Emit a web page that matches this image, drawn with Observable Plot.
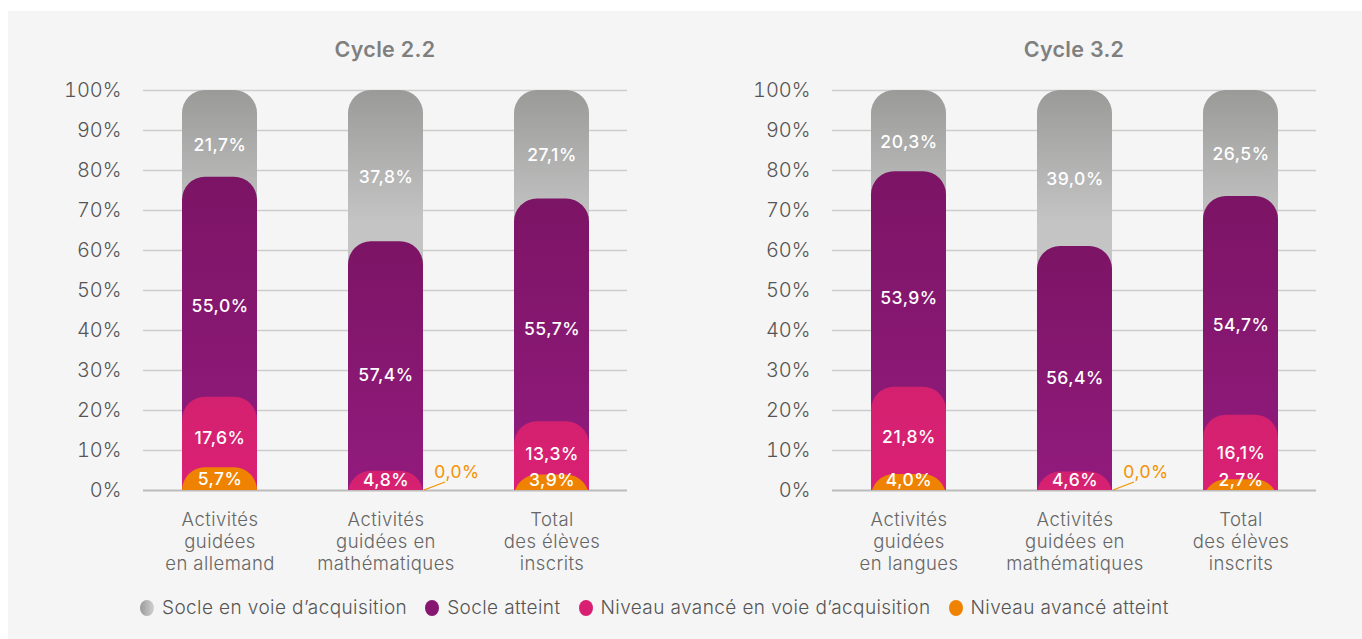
<!DOCTYPE html>
<html><head><meta charset="utf-8">
<script src="https://cdn.jsdelivr.net/npm/d3@7"></script>
<script src="https://cdn.jsdelivr.net/npm/@observablehq/plot@0.6"></script>
<style>
body{margin:0;background:#fff;font-family:"Inter",sans-serif;width:1362px;height:639px;overflow:hidden;position:relative;}
#panel{position:absolute;left:8px;top:11px;width:1354px;height:628px;background:#f5f5f5;}
.chart{position:absolute;top:0;width:689px;height:600px;}
.chart svg{position:absolute;left:0;top:0;overflow:visible;}
.chart svg g[aria-label="text"] text{letter-spacing:0.5px;}
.chart svg g[aria-label="x-axis tick label"] text{letter-spacing:0.45px;}
.title{position:absolute;top:25px;left:135px;width:484px;text-align:center;font-size:21.5px;font-weight:600;color:#7f7f7f;letter-spacing:0.3px;}
#legend{position:absolute;left:132px;top:585px;display:flex;align-items:center;font-size:19px;color:#555;font-weight:300;white-space:nowrap;letter-spacing:0.4px;}
#legend .item{display:flex;align-items:center;margin-right:18px;}
#legend .dot{width:14px;height:16px;border-radius:50%;margin-right:8px;display:inline-block;}
</style></head><body>
<svg width="0" height="0" style="position:absolute">
  <defs>
    <linearGradient id="g-gray" x1="0" y1="0" x2="0" y2="1">
      <stop offset="0" stop-color="#9a9a99"/>
      <stop offset="0.3" stop-color="#c4c4c4"/>
      <stop offset="1" stop-color="#c8c8c8"/>
    </linearGradient>
    <linearGradient id="g-purple" x1="0" y1="0" x2="0" y2="1">
      <stop offset="0" stop-color="#7c1465"/>
      <stop offset="1" stop-color="#951c81"/>
    </linearGradient>
    <linearGradient id="g-pink" x1="0" y1="0" x2="0" y2="1">
      <stop offset="0" stop-color="#d4216f"/>
      <stop offset="1" stop-color="#dd1f78"/>
    </linearGradient>
    <linearGradient id="g-orange" x1="0" y1="0" x2="0" y2="1">
      <stop offset="0" stop-color="#ef8300"/>
      <stop offset="1" stop-color="#ef8000"/>
    </linearGradient>
  </defs>
</svg>
<div id="panel"></div>
<script>
// ---- data ----
const seriesNames = ["Socle en voie d’acquisition", "Socle atteint", "Niveau avancé en voie d’acquisition", "Niveau avancé atteint"];
const seriesFills = ["url(#g-gray)", "url(#g-purple)", "url(#g-pink)", "url(#g-orange)"];
const legendColors = ["linear-gradient(90deg,#9a9a9a,#d0d0d0)", "#86166f", "#d81f72", "#ef8200"];

const yTicks = [0, 10, 20, 30, 40, 50, 60, 70, 80, 90, 100];

const cycle22Title = "Cycle 2.2";
const cycle22Categories = ["Activités\nguidées\nen allemand", "Activités\nguidées en\nmathématiques", "Total\ndes élèves\ninscrits"];
const cycle22SocleVoie = [21.7, 37.8, 27.1];
const cycle22SocleAtteint = [55.0, 57.4, 55.7];
const cycle22AvanceVoie = [17.6, 4.8, 13.3];
const cycle22AvanceAtteint = [5.7, 0.0, 3.9];

const cycle32Title = "Cycle 3.2";
const cycle32Categories = ["Activités\nguidées\nen langues", "Activités\nguidées en\nmathématiques", "Total\ndes élèves\ninscrits"];
const cycle32SocleVoie = [20.3, 39.0, 26.5];
const cycle32SocleAtteint = [53.9, 56.4, 54.7];
const cycle32AvanceVoie = [21.8, 4.6, 16.1];
const cycle32AvanceAtteint = [4.0, 0.0, 2.7];

// ---- helpers ----
const fmt = v => v.toFixed(1).replace(".", ",") + "%";
const labelDy = [11, 19, 6, 0];
const FONT = "Inter, sans-serif";

function buildRows(categories, seriesValues) {
  const rows = [];
  categories.forEach((cat, i) => {
    let lower = 0;
    const segs = [];
    for (let s = seriesValues.length - 1; s >= 0; s--) {
      const v = seriesValues[s][i];
      segs[s] = {cat, series: s, value: v, lower, upper: lower + v};
      lower += v;
    }
    rows.push(...segs);
  });
  return rows;
}

function makeChart(title, categories, seriesValues, left) {
  const rows = buildRows(categories, seriesValues);
  const shown = rows.filter(d => d.value > 0);
  const zeros = rows.filter(d => d.value === 0);

  const barMarks = [0, 1, 2, 3].map(s =>
    Plot.barY(shown.filter(d => d.series === s), {
      x: "cat", y1: 0, y2: "upper",
      fill: seriesFills[s], rx: 23, insetBottom: -40, clip: true
    })
  );

  const labelMarks = [0, 1, 2, 3].map(s =>
    Plot.text(shown.filter(d => d.series === s && d.lower > 0), {
      x: "cat",
      y: d => (d.lower + d.upper) / 2,
      dy: labelDy[s],
      text: d => fmt(d.value),
      fill: "white", fontSize: 17.5, fontWeight: 500
    })
  );
  const bottomLabels = Plot.text(shown.filter(d => d.lower === 0), {
    x: "cat",
    y: d => Math.max(d.upper / 2, 2.6),
    text: d => fmt(d.value),
    fill: "white", fontSize: 17.5, fontWeight: 500
  });

  const leader = (index, scales) => {
    const xs = scales.x;
    const ys = scales.y;
    const bw = xs.bandwidth ? xs.bandwidth() : scales.scales.x.bandwidth;
    const g = document.createElementNS("http://www.w3.org/2000/svg", "g");
    for (const d of zeros) {
      const x0 = xs(d.cat) + bw + 1;
      const y0 = ys(d.lower);
      const line = document.createElementNS("http://www.w3.org/2000/svg", "line");
      line.setAttribute("x1", x0);
      line.setAttribute("y1", y0);
      line.setAttribute("x2", x0 + 21);
      line.setAttribute("y2", y0 - 8);
      line.setAttribute("stroke", "#f39200");
      line.setAttribute("stroke-width", 1.3);
      g.appendChild(line);
    }
    return g;
  };

  const plot = Plot.plot({
    width: 689,
    height: 574,
    marginLeft: 135,
    marginRight: 70,
    marginTop: 79,
    marginBottom: 95,
    style: {background: "transparent", fontFamily: FONT, overflow: "visible"},
    x: {domain: categories, paddingInner: 0.55, paddingOuter: 0.231, label: null},
    y: {domain: [0, 100], label: null},
    marks: [
      Plot.ruleY(yTicks.filter(t => t > 0), {stroke: "#cdcdcd", strokeWidth: 1.5}),
      Plot.ruleY([0], {stroke: "#bcbcbc", strokeWidth: 2}),
      ...barMarks,
      Plot.axisY({ticks: yTicks, tickSize: 0, tickPadding: 22, tickFormat: d => d + "%",
        fontSize: 20, fontWeight: 300, color: "#555", label: null}),
      Plot.axisX({tickSize: 0, tickPadding: 20, fontSize: 18.5, fontWeight: 300, color: "#666",
        lineHeight: 1.19, label: null}),
      ...labelMarks,
      bottomLabels,
      leader,
      Plot.text(zeros, {
        x: "cat", y: "lower", text: d => fmt(d.value),
        dx: 71, dy: -18, fill: "#f39200", fontSize: 17.5, fontWeight: 400
      })
    ]
  });

  const wrap = document.createElement("div");
  wrap.className = "chart";
  wrap.style.left = left + "px";
  const t = document.createElement("div");
  t.className = "title";
  t.textContent = title;
  wrap.appendChild(t);
  wrap.appendChild(plot);
  document.getElementById("panel").appendChild(wrap);
  return plot;
}

const c22 = [cycle22SocleVoie, cycle22SocleAtteint, cycle22AvanceVoie, cycle22AvanceAtteint];
const c32 = [cycle32SocleVoie, cycle32SocleAtteint, cycle32AvanceVoie, cycle32AvanceAtteint];
makeChart(cycle22Title, cycle22Categories, c22, 0);
makeChart(cycle32Title, cycle32Categories, c32, 689);

// legend
const legend = document.createElement("div");
legend.id = "legend";
seriesNames.forEach((name, i) => {
  const item = document.createElement("span");
  item.className = "item";
  const dot = document.createElement("span");
  dot.className = "dot";
  dot.style.background = legendColors[i];
  item.appendChild(dot);
  item.appendChild(document.createTextNode(name));
  legend.appendChild(item);
});
document.getElementById("panel").appendChild(legend);
</script>
</body></html>
